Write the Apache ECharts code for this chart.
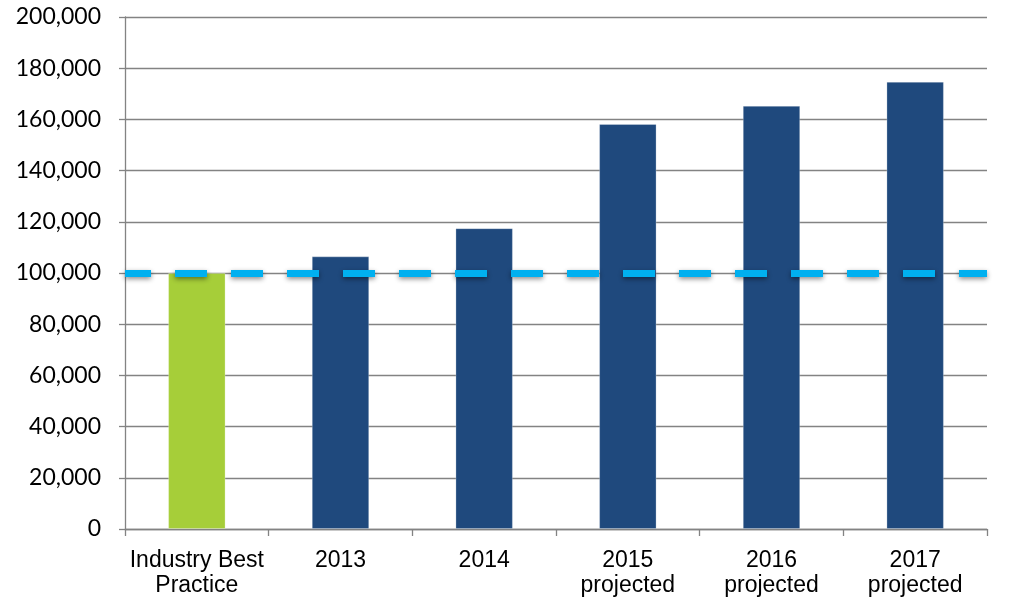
<!DOCTYPE html>
<html>
<head>
<meta charset="utf-8">
<script src="https://cdn.jsdelivr.net/npm/echarts@6/dist/echarts.min.js"></script>
<style>
html,body{margin:0;padding:0;background:#fff;}
#c{width:1009px;height:601px;}
</style>
</head>
<body>
<div id="c"></div>
<script>
const categories = ['Industry Best\nPractice', '2013', '2014', '2015\nprojected', '2016\nprojected', '2017\nprojected'];
const values = [100000, 106500, 117500, 158200, 165300, 174700];
const barColors = ['#A6CE39', '#1F497D', '#1F497D', '#1F497D', '#1F497D', '#1F497D'];
const targetValue = [100000];
const yTicks = { min: 0, max: 200000, interval: 20000 };

const chart = echarts.init(document.getElementById('c'), null, { renderer: 'canvas' });
chart.setOption({
  animation: false,
  backgroundColor: '#ffffff',
  grid: { left: 125, right: 22, top: 17, bottom: 72, containLabel: false },
  xAxis: {
    type: 'category',
    data: categories,
    boundaryGap: true,
    axisLine: { lineStyle: { color: '#838383', width: 1.3 } },
    axisTick: { show: true, length: 7, alignWithLabel: false, lineStyle: { color: '#838383', width: 1.3 } },
    axisLabel: {
      interval: 0,
      margin: 19,
      fontFamily: 'Liberation Sans, Arial, sans-serif',
      fontSize: 23,
      lineHeight: 25,
      color: '#000000'
    }
  },
  yAxis: {
    type: 'value',
    min: yTicks.min,
    max: yTicks.max,
    interval: yTicks.interval,
    axisLine: { show: true, lineStyle: { color: '#838383', width: 1.3 } },
    axisTick: { show: true, length: 6, lineStyle: { color: '#838383', width: 1.3 } },
    splitLine: { show: true, lineStyle: { color: '#838383', width: 1.3 } },
    axisLabel: {
      margin: 24,
      fontFamily: 'Lato, sans-serif',
      fontSize: 23,
      color: '#000000',
      formatter: v => v.toLocaleString('en-US')
    }
  },
  series: [{
    type: 'bar',
    data: values.map((v, i) => ({ value: v, itemStyle: { color: barColors[i] } })),
    barWidth: '40%',
    itemStyle: { borderColor: 'rgba(255,255,255,0.25)', borderWidth: 1 },
    markLine: {
      silent: true,
      symbol: ['none', 'none'],
      label: { show: false },
      lineStyle: {
        color: '#00B0F0',
        width: 7,
        type: [32, 24],
        dashOffset: 6,
        shadowColor: 'rgba(0,0,0,0.45)',
        shadowBlur: 5,
        shadowOffsetY: 2
      },
      data: targetValue.map(v => ({ yAxis: v }))
    }
  }]
});
</script>
</body>
</html>
